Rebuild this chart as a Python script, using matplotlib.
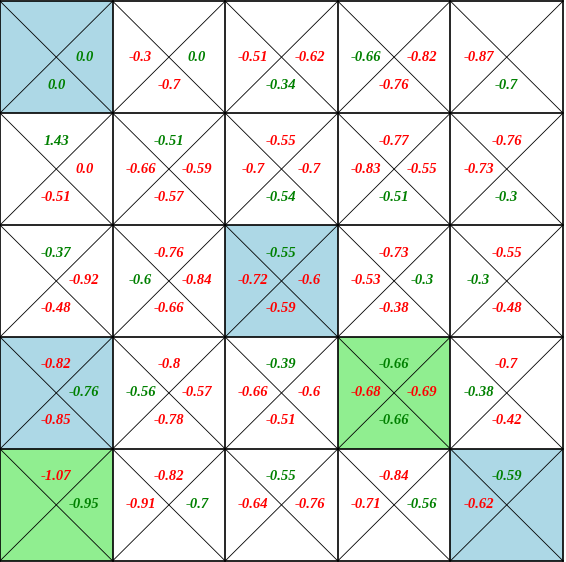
import matplotlib
matplotlib.use("Agg")
import matplotlib.pyplot as plt
from matplotlib.patches import Rectangle

# Q-values per cell, one grid per action (None = not shown)
top = [
    [None, None, None, None, None],
    [1.43, -0.51, -0.55, -0.77, -0.76],
    [-0.37, -0.76, -0.55, -0.73, -0.55],
    [-0.82, -0.8, -0.39, -0.66, -0.7],
    [-1.07, -0.82, -0.55, -0.84, -0.59],
]
left = [
    [None, -0.3, -0.51, -0.66, -0.87],
    [None, -0.66, -0.7, -0.83, -0.73],
    [None, -0.6, -0.72, -0.53, -0.3],
    [None, -0.56, -0.66, -0.68, -0.38],
    [None, -0.91, -0.64, -0.71, -0.62],
]
right = [
    [0.0, 0.0, -0.62, -0.82, None],
    [0.0, -0.59, -0.7, -0.55, None],
    [-0.92, -0.84, -0.6, -0.3, None],
    [-0.76, -0.57, -0.6, -0.69, None],
    [-0.95, -0.7, -0.76, -0.56, None],
]
bottom = [
    [0.0, -0.7, -0.34, -0.76, -0.7],
    [-0.51, -0.57, -0.54, -0.51, -0.3],
    [-0.48, -0.66, -0.59, -0.38, -0.48],
    [-0.85, -0.78, -0.51, -0.66, -0.42],
    [None, None, None, None, None],
]
# highlighted cells (row, col) -> colour
blue_cells = [(0, 0), (2, 2), (3, 0), (4, 4)]
green_cells = [(3, 3), (4, 0)]

n = 5
fig = plt.figure(figsize=(5.66, 5.62), dpi=100)
ax = fig.add_axes([0, 0.002, 563 / 566, 0.996])
ax.set_xlim(0, n)
ax.set_ylim(n, 0)
ax.axis("off")

for (r, c) in blue_cells:
    ax.add_patch(Rectangle((c, r), 1, 1, facecolor="#add8e6", edgecolor="none", zorder=0))
for (r, c) in green_cells:
    ax.add_patch(Rectangle((c, r), 1, 1, facecolor="#90ee90", edgecolor="none", zorder=0))

for r in range(n):
    for c in range(n):
        ax.plot([c, c + 1], [r, r + 1], color="black", lw=0.6, zorder=1)
        ax.plot([c, c + 1], [r + 1, r], color="black", lw=0.6, zorder=1)
for i in range(n + 1):
    ax.plot([i, i], [0, n], color="black", lw=1.2, zorder=2, clip_on=False)
    ax.plot([0, n], [i, i], color="black", lw=1.2, zorder=2, clip_on=False)

offsets = [(top, 0.5, 0.25), (left, 0.25, 0.5), (right, 0.75, 0.5), (bottom, 0.5, 0.75)]
for r in range(n):
    for c in range(n):
        vals = [g[r][c] for g, _, _ in offsets if g[r][c] is not None]
        best = max(vals)
        for g, dx, dy in offsets:
            v = g[r][c]
            if v is None:
                continue
            col = "green" if v == best else "red"
            ax.text(c + dx, r + dy, str(v), color=col, ha="center", va="center",
                    fontsize=10.5, fontfamily="Liberation Serif", fontweight="bold",
                    fontstyle="italic", zorder=3)

fig.savefig("out.png", dpi=100)
